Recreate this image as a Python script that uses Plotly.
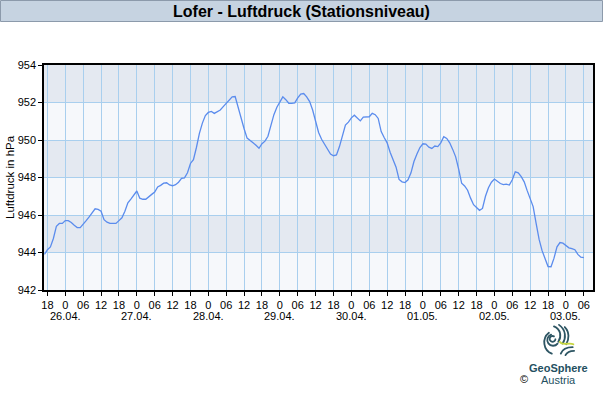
import base64
import pandas as pd
import plotly.graph_objects as go

# ---------------- data ----------------
start_time = "2024-04-25 17:00"   # first hourly reading
pressure_hpa = [
    943.9, 944.15, 944.3, 944.75, 945.4, 945.55, 945.55,
    945.7, 945.7, 945.6, 945.45, 945.33, 945.33, 945.5, 945.7, 945.9, 946.15,
    946.33, 946.3, 946.2, 945.75, 945.62, 945.55, 945.55, 945.55, 945.7, 945.85,
    946.2, 946.65, 946.85, 947.05, 947.28, 946.9, 946.84, 946.84, 946.95, 947.1,
    947.22, 947.5, 947.58, 947.7, 947.72, 947.6, 947.56, 947.62, 947.75, 947.95,
    947.98, 948.25, 948.75, 948.95, 949.6, 950.35, 950.9, 951.3, 951.47, 951.52,
    951.42, 951.5, 951.6, 951.78, 951.95, 952.15, 952.3, 952.32, 951.72, 951.2,
    950.6, 950.1, 949.99, 949.85, 949.72, 949.56, 949.8, 949.94, 950.2, 950.75,
    951.35, 951.75, 952.05, 952.3, 952.15, 951.96, 951.95, 951.98, 952.25, 952.45,
    952.48, 952.3, 952.05, 951.6, 951.0, 950.4, 950.04, 949.75, 949.47, 949.25,
    949.16, 949.2, 949.65, 950.2, 950.8, 950.95, 951.18, 951.32, 951.15, 951.02,
    951.22, 951.24, 951.24, 951.42, 951.35, 951.15, 950.45, 950.13, 949.85, 949.35,
    948.95, 948.55, 947.9, 947.77, 947.73, 947.88, 948.25, 948.85, 949.25, 949.6,
    949.8, 949.78, 949.62, 949.55, 949.68, 949.65, 949.85, 950.18, 950.08, 949.85,
    949.5, 949.1, 948.45, 947.7, 947.55, 947.32, 946.9, 946.55, 946.4, 946.25,
    946.35, 947.0, 947.45, 947.75, 947.92, 947.78, 947.68, 947.62, 947.65, 947.6,
    947.88, 948.3, 948.25, 948.05, 947.77, 947.3, 946.9, 946.45, 945.55, 944.7,
    944.1, 943.7, 943.25, 943.24, 943.7, 944.3, 944.53, 944.5, 944.38, 944.25,
    944.21, 944.15, 943.9, 943.75, 943.73,
]
x_range = ["2024-04-25 16:51", "2024-05-03 09:05"]
tick_start = "2024-04-25 18:00"
tick_end = "2024-05-03 06:00"
date_labels = ["26.04.", "27.04.", "28.04.", "29.04.", "30.04.", "01.05.", "02.05.", "03.05."]
date_positions = ["2024-04-26", "2024-04-27", "2024-04-28", "2024-04-29",
                  "2024-04-30", "2024-05-01", "2024-05-02", "2024-05-03"]
y_ticks = [942, 944, 946, 948, 950, 952, 954]
dark_bands = [(952, 954), (948, 950), (944, 946)]
title_text = "Lofer - Luftdruck (Stationsniveau)"
y_title = "Luftdruck in hPa"

# ---------------- layout helpers ----------------
W, H = 603, 400
L, R, T, B = 44, 593, 65, 290
FONT = "Liberation Sans, Arial, sans-serif"


def px_x(x):
    return (x - L) / (R - L)


def px_y(y):
    return (B - y) / (B - T)


times = pd.date_range(start_time, periods=len(pressure_hpa), freq="h")
tickvals = pd.date_range(tick_start, tick_end, freq="6h")
ticktext = [str(t.hour) if t.hour == 0 else f"{t.hour:02d}" for t in tickvals]

fig = go.Figure()
fig.add_trace(go.Scatter(
    x=times, y=pressure_hpa, mode="lines",
    line=dict(color="#5b8ced", width=1.3),
    hoverinfo="skip", showlegend=False,
))

shapes = []
for y0, y1 in dark_bands:
    shapes.append(dict(type="rect", xref="paper", yref="y", x0=0, x1=1, y0=y0, y1=y1,
                       fillcolor="#e4e9f1", line=dict(width=0), layer="below"))
# title bar
shapes.append(dict(type="rect", xref="paper", yref="paper",
                   x0=px_x(0.5), x1=px_x(602.5), y0=px_y(21.5), y1=px_y(0.5),
                   fillcolor="#c6d3e1", line=dict(color="#8c9aab", width=1), layer="below"))

annotations = []
for d, lab in zip(date_positions, date_labels):
    annotations.append(dict(x=d, xref="x", y=px_y(316), yref="paper", text=lab,
                            showarrow=False, font=dict(size=11, color="black", family=FONT),
                            xanchor="center", yanchor="middle"))
annotations.append(dict(x=px_x(10), xref="paper", y=px_y(177), yref="paper", text=y_title,
                        textangle=-90, showarrow=False,
                        font=dict(size=11.5, color="black", family=FONT),
                        xanchor="center", yanchor="middle"))
annotations.append(dict(x=px_x(558), xref="paper", y=px_y(368), yref="paper",
                        text="<b>GeoSphere</b>", showarrow=False,
                        font=dict(size=11, color="#24505f", family=FONT),
                        xanchor="center", yanchor="middle"))
annotations.append(dict(x=px_x(558), xref="paper", y=px_y(380), yref="paper",
                        text="Austria", showarrow=False,
                        font=dict(size=11, color="#24505f", family=FONT),
                        xanchor="center", yanchor="middle"))
annotations.append(dict(x=px_x(524), xref="paper", y=px_y(379), yref="paper",
                        text="©", showarrow=False,
                        font=dict(size=11, color="black", family=FONT),
                        xanchor="center", yanchor="middle"))

logo_svg = """<svg xmlns='http://www.w3.org/2000/svg' viewBox='0 0 100 100'>
<g fill='none' stroke='#2d5563' stroke-width='5' stroke-linecap='round'>
<path d='M22 30 A34 34 0 0 0 30 88'/>
<path d='M36 12 C55 20 58 40 48 55'/>
<path d='M50 8 C70 22 70 45 60 60'/>
<path d='M66 14 C80 28 78 48 70 62'/>
<path d='M36 40 A8 8 0 1 0 40 48'/>
<path d='M28 35 A16 16 0 1 0 46 60'/>
<path d='M55 88 C60 75 72 70 88 70'/>
<path d='M68 92 C72 84 80 80 92 80'/>
</g>
<path d='M52 55 C60 68 78 55 90 62' fill='none' stroke='#c6d540' stroke-width='5' stroke-linecap='round'/>
</svg>"""
logo_uri = "data:image/svg+xml;base64," + base64.b64encode(logo_svg.encode()).decode()
images = [dict(source=logo_uri, xref="paper", yref="paper",
               x=px_x(541), y=px_y(322), sizex=px_x(577) - px_x(541), sizey=px_y(322) - px_y(358),
               xanchor="left", yanchor="top", sizing="stretch", layer="above")]

fig.update_layout(
    width=W, height=H,
    margin=dict(l=L, r=W - R, t=T, b=H - B, pad=0, autoexpand=False),
    paper_bgcolor="white", plot_bgcolor="#f6f8fb",
    font=dict(family=FONT, size=11, color="black"),
    title=dict(text=f"<b>{title_text}</b>", x=0.5, xref="container",
               xanchor="center", y=1 - 11 / H, yref="container", yanchor="middle",
               automargin=False,
               font=dict(size=16, color="black", family=FONT)),
    shapes=shapes, annotations=annotations, images=images,
    xaxis=dict(range=x_range, tickmode="array", tickvals=tickvals, ticktext=ticktext,
               automargin=False,
               showgrid=True, gridcolor="#a9cfee", gridwidth=1,
               showline=True, linecolor="black", linewidth=1.5, mirror=True,
               ticks="outside", ticklen=4, tickcolor="black", tickwidth=1,
               tickfont=dict(size=11, family=FONT, color="black"), zeroline=False),
    yaxis=dict(range=[942, 954], tickmode="array", tickvals=y_ticks,
               ticktext=[str(v) for v in y_ticks], automargin=False,
               showgrid=True, gridcolor="#a9cfee", gridwidth=1,
               showline=True, linecolor="black", linewidth=1.5, mirror=True,
               ticks="outside", ticklen=4, tickcolor="black", tickwidth=1,
               tickfont=dict(size=11, family=FONT, color="black"), zeroline=False),
)

fig.write_html("out.html", config={"displayModeBar": False},
               post_script="document.body.style.margin='0';document.body.style.overflow='hidden';")
